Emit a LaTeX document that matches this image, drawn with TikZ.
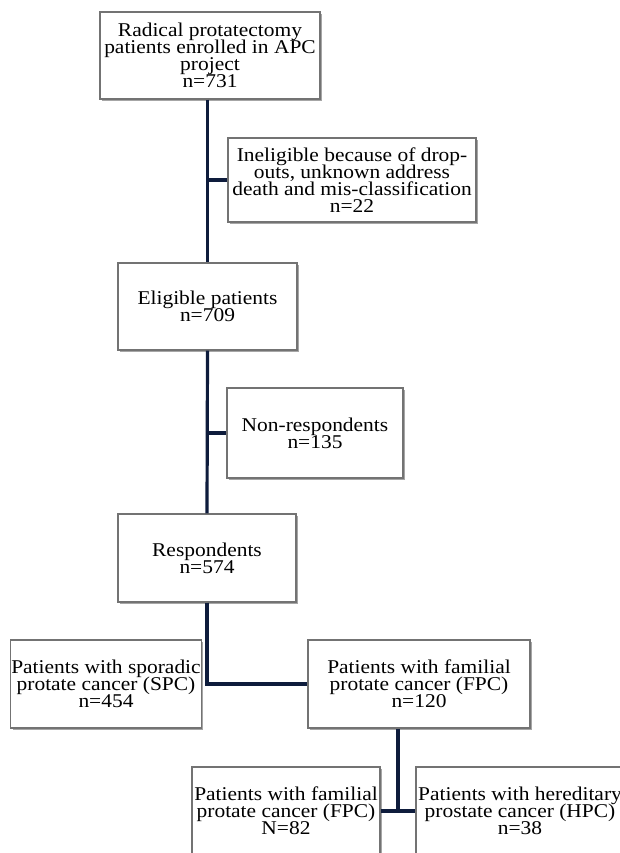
\documentclass[tikz,border=0pt]{standalone}
\usepackage{fontspec}
\setmainfont{Liberation Serif}[FakeStretch=1.1]
\usetikzlibrary{shadows}
\definecolor{navy}{RGB}{14,28,60}

\begin{document}
\begin{tikzpicture}[x=1pt, y=-1pt,
    box/.style={draw=gray!90!black, line width=1.1pt, fill=white, align=center, inner sep=0.5pt,
        font={\fontsize{19.5}{17}\selectfont\lineskiplimit=-50pt\relax},
        drop shadow={shadow xshift=1.8pt, shadow yshift=-1.8pt, fill=black!50, opacity=0.7}},
    link/.style={draw=navy, line width=3.2pt}]
    % Page frame (pixel grid of the reference)
    \useasboundingbox (0,0) rectangle (620,853);
    \clip (0,0) rectangle (620,853);

    % Main column
    \node[box, minimum width=220pt, minimum height=87pt] (enrolled) at (210,55.5)
        {Radical protatectomy\\patients enrolled in APC\\project\\n=731};
    \node[box, minimum width=179pt, minimum height=87pt] (eligible) at (207.5,306.5)
        {Eligible patients\\n=709};
    \node[box, minimum width=178pt, minimum height=88pt] (respondents) at (207,558)
        {Respondents\\n=574};

    % Exclusions
    \node[box, minimum width=248pt, minimum height=84pt] (ineligible) at (352,180)
        {Ineligible because of drop-\\outs, unknown address\\death and mis-classification\\n=22};
    \node[box, minimum width=176pt, minimum height=90pt] (nonresp) at (315,433)
        {Non-respondents\\n=135};

    % Sporadic vs familial
    \node[box, minimum width=188pt, minimum height=88pt] (spc) at (106,684)
        {Patients with sporadic\\protate cancer (SPC)\\n=454};
    \node[box, minimum width=222pt, minimum height=88pt] (fpc) at (419,684)
        {Patients with familial\\protate cancer (FPC)\\n=120};

    % Familial split
    \node[box, minimum width=188pt, minimum height=88pt] (fpcsub) at (286,811)
        {Patients with familial\\protate cancer (FPC)\\N=82};
    \node[box, minimum width=208pt, minimum height=88pt] (hpc) at (520,811)
        {Patients with hereditary\\prostate cancer (HPC)\\n=38};
    \coordinate (split) at (398,811);

    % Connectors
    \draw[link] (enrolled.south -| eligible.north) -- (eligible.north);
    \draw[link] (ineligible.west -| eligible.north) -- (ineligible.west);
    \draw[link] (eligible.south) -- (respondents.north);
    \draw[link] (nonresp.west -| eligible.south) -- (nonresp.west);
    \draw[link] (respondents.south) -- (respondents.south |- fpc.west) -- (fpc.west);
    \draw[link] (fpc.south -| split) -- (split);
    \draw[link] (fpcsub.east) -- (hpc.west);
\end{tikzpicture}
\end{document}
